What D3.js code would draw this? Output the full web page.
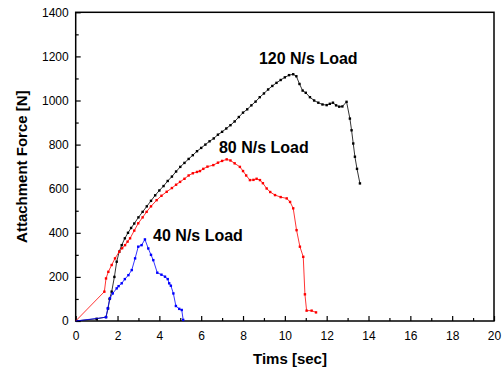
<!DOCTYPE html>
<html><head><meta charset="utf-8">
<script src="https://cdn.jsdelivr.net/npm/d3@7"></script>
<style>body{margin:0;background:#fff}svg{display:block}text{font-family:"Liberation Sans",Arial,sans-serif}</style>
</head><body><svg id="c" width="504" height="370"></svg>
<script>
const t120 = [0,1.0,1.45,1.55,1.62,1.72,1.85,1.96,2.08,2.2,2.35,2.5,2.65,2.8,3.0,3.2,3.4,3.6,3.8,4.0,4.2,4.4,4.6,4.8,5.0,5.2,5.4,5.6,5.8,6.0,6.2,6.4,6.6,6.8,7.0,7.2,7.4,7.6,7.8,8.0,8.2,8.4,8.6,8.8,9.0,9.2,9.4,9.6,9.8,10.0,10.2,10.4,10.55,10.7,10.85,11.0,11.2,11.4,11.6,11.8,12.0,12.15,12.3,12.45,12.6,12.75,12.95,13.11,13.19,13.27,13.35,13.45,13.59];
const f120 = [0,10,18,57,100,133,200,269,314,344,375,400,422,442,470,495,520,545,570,592,612,635,655,678,699,717,735,752,770,785,800,815,828,845,858,873,888,905,925,945,960,978,995,1015,1032,1050,1066,1080,1093,1105,1115,1119,1110,1075,1045,1035,1015,1000,990,982,979,985,990,978,972,973,994,918,865,805,745,690,624];
const t80 = [0,1.37,1.45,1.56,1.72,1.88,2.08,2.22,2.36,2.48,2.6,2.8,2.99,3.2,3.39,3.6,3.87,4.1,4.35,4.6,4.8,4.99,5.2,5.4,5.6,5.8,5.94,6.1,6.3,6.58,6.8,7.0,7.22,7.4,7.6,7.85,8.0,8.15,8.33,8.5,8.65,8.81,8.95,9.13,9.3,9.53,9.8,10.09,10.25,10.4,10.56,10.72,10.88,10.96,11.04,11.28,11.49];
const f80 = [0,133,193,223,254,284,314,330,344,360,375,410,443,470,495,520,548,568,586,603,618,631,645,660,670,676,680,690,700,707,718,726,733,728,715,699,680,660,639,640,645,639,625,601,585,571,562,556,540,511,412,337,291,121,47,47,39];
const t40 = [0,1.45,1.53,1.64,1.77,1.96,2.05,2.2,2.35,2.52,2.68,2.84,2.99,3.15,3.31,3.47,3.6,3.71,3.9,4.1,4.27,4.4,4.47,4.55,4.67,4.79,4.95,5.07,5.14];
const f40 = [0,17,57,103,125,148,158,171,190,208,231,284,337,344,370,329,300,276,219,210,201,190,171,160,125,68,55,50,5];
const seriesNames = ["120 N/s Load","80 N/s Load","40 N/s Load"];
const seriesColors = ["#000000","#ff0000","#0000ff"];
const labelX = [8.76,6.85,3.70];
const labelY = [1164,761,362];
const xTicks = [0,2,4,6,8,10,12,14,16,18,20];
const yTicks = [0,200,400,600,800,1000,1200,1400];

const svg = d3.select("#c");
const L=75.7,R=494,T=12.3,B=321;
const x = d3.scaleLinear().domain([0,20]).range([L,R]);
const y = d3.scaleLinear().domain([0,1400]).range([B,T]);

const data = [[t120,f120],[t80,f80],[t40,f40]].map(([t,f])=>t.map((v,i)=>[v,f[i]]));
const line = d3.line().x(d=>x(d[0])).y(d=>y(d[1]));

// minor ticks
svg.append("g").attr("transform",`translate(0,${B})`)
  .call(d3.axisBottom(x).tickValues(d3.range(1,20,2)).tickSize(-3).tickFormat(""))
  .call(g=>{g.select(".domain").remove();g.selectAll("line").attr("stroke-width",1.2);});
svg.append("g").attr("transform",`translate(${L},0)`)
  .call(d3.axisLeft(y).tickValues(d3.range(100,1400,200)).tickSize(-3).tickFormat(""))
  .call(g=>{g.select(".domain").remove();g.selectAll("line").attr("stroke-width",1.2);});
// major
svg.append("g").attr("transform",`translate(0,${B})`)
  .call(d3.axisBottom(x).tickValues(xTicks).tickSize(-5).tickPadding(10).tickFormat(d3.format("d")))
  .call(g=>{g.select(".domain").remove();g.selectAll("line").attr("stroke-width",1.2);
    g.selectAll("text").attr("font-size",12).attr("fill","#000").attr("font-family","Liberation Sans, Arial");});
svg.append("g").attr("transform",`translate(${L},0)`)
  .call(d3.axisLeft(y).tickValues(yTicks).tickSize(-5).tickPadding(7).tickFormat(d3.format("d")))
  .call(g=>{g.select(".domain").remove();g.selectAll("line").attr("stroke-width",1.2);
    g.selectAll("text").attr("font-size",12).attr("fill","#000").attr("font-family","Liberation Sans, Arial");});

// frame
svg.append("rect").attr("x",L).attr("y",T).attr("width",R-L).attr("height",B-T)
  .attr("fill","none").attr("stroke","#000").attr("stroke-width",1.5);

data.forEach((d,i)=>{
  svg.append("path").datum(d).attr("d",line).attr("fill","none")
    .attr("stroke",seriesColors[i]).attr("stroke-width",0.8);
  svg.append("g").selectAll("rect").data(d.slice(1)).join("rect")
    .attr("x",p=>x(p[0])-1.2).attr("y",p=>y(p[1])-1.2).attr("width",2.4).attr("height",2.4)
    .attr("fill",seriesColors[i]);
  svg.append("text").attr("x",x(labelX[i])).attr("y",y(labelY[i]))
    .attr("font-size",16).attr("font-weight","bold").attr("fill","#000").text(seriesNames[i]);
});

svg.append("text").attr("transform",`translate(27,${(T+B)/2}) rotate(-90)`)
  .attr("text-anchor","middle").attr("font-size",15).attr("font-weight","bold").text("Attachment Force [N]");
svg.append("text").attr("x",290).attr("y",364).attr("text-anchor","middle")
  .attr("font-size",15).attr("font-weight","bold").text("Tims [sec]");
</script></body></html>
